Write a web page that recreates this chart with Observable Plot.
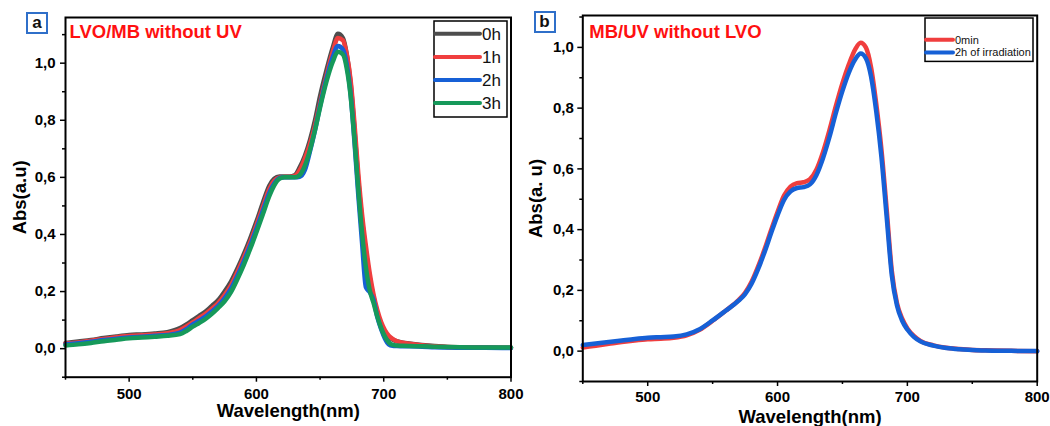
<!DOCTYPE html>
<html>
<head>
<meta charset="utf-8">
<script src="https://cdn.jsdelivr.net/npm/d3@7"></script>
<script src="https://cdn.jsdelivr.net/npm/@observablehq/plot@0.6"></script>
<style>
  html, body { margin: 0; padding: 0; background: #fff; }
  #wrap { position: relative; width: 1050px; height: 426px; overflow: hidden; font-family: "Liberation Sans", Arial, sans-serif; }
  .panel { position: absolute; top: 0; }
  .tag { position: absolute; box-sizing: border-box; border: 2px solid #2f6fc9; font-weight: bold; font-size: 17px; color: #111; text-align: center; line-height: 17px; }
  .leg { position: absolute; }
</style>
</head>
<body>
<div id="wrap"></div>
<script>
// ---------- Panel a: LVO/MB without UV ----------
const titleA = "LVO/MB without UV";
const seriesA = ["0h", "1h", "2h", "3h"];
const colorsA = ["#4d4d4d", "#f03e3e", "#1660d6", "#16995a"];
const wlA = [450,460,470,480,490,500,510,520,530,540,545,550,555,560,565,570,575,580,585,590,595,600,605,610,614,618,622,626,630,634,638,642,646,650,655,660,664,668,671,674,677,680,683,686,689,692,695,698,701,704,707,710,715,720,730,740,750,760,780,800];
const abs0h = [0.020,0.025,0.030,0.037,0.043,0.048,0.050,0.053,0.058,0.072,0.085,0.100,0.115,0.130,0.150,0.170,0.200,0.235,0.280,0.330,0.385,0.445,0.510,0.570,0.595,0.603,0.603,0.603,0.607,0.635,0.675,0.730,0.800,0.885,0.975,1.055,1.103,1.088,1.030,0.930,0.770,0.590,0.450,0.340,0.250,0.180,0.125,0.085,0.058,0.042,0.032,0.026,0.021,0.018,0.013,0.009,0.006,0.005,0.004,0.003];
const abs1h = [0.018,0.022,0.028,0.034,0.040,0.044,0.047,0.050,0.054,0.065,0.078,0.092,0.107,0.122,0.140,0.160,0.188,0.222,0.268,0.318,0.372,0.432,0.495,0.558,0.588,0.600,0.601,0.601,0.604,0.625,0.665,0.715,0.780,0.860,0.955,1.040,1.088,1.080,1.030,0.940,0.790,0.615,0.470,0.360,0.265,0.190,0.135,0.093,0.064,0.045,0.034,0.027,0.021,0.017,0.012,0.008,0.006,0.005,0.004,0.003];
const abs2h = [0.015,0.019,0.024,0.030,0.035,0.039,0.042,0.045,0.048,0.056,0.068,0.085,0.098,0.112,0.130,0.150,0.176,0.210,0.255,0.305,0.360,0.420,0.482,0.545,0.578,0.597,0.600,0.600,0.600,0.602,0.625,0.690,0.765,0.850,0.945,1.022,1.060,1.048,0.995,0.890,0.725,0.540,0.370,0.215,0.198,0.170,0.110,0.068,0.035,0.015,0.010,0.009,0.008,0.008,0.007,0.005,0.004,0.003,0.003,0.002];
const abs3h = [0.011,0.015,0.020,0.026,0.031,0.036,0.039,0.042,0.045,0.051,0.062,0.077,0.090,0.104,0.122,0.143,0.166,0.198,0.243,0.293,0.348,0.408,0.470,0.533,0.572,0.595,0.600,0.600,0.600,0.608,0.640,0.695,0.765,0.845,0.935,1.005,1.040,1.030,0.980,0.885,0.735,0.560,0.405,0.285,0.205,0.160,0.112,0.072,0.042,0.022,0.013,0.011,0.010,0.009,0.008,0.007,0.006,0.005,0.004,0.004];

// ---------- Panel b: MB/UV without LVO ----------
const titleB = "MB/UV without LVO";
const seriesB = ["0min", "2h of irradiation"];
const colorsB = ["#f03e3e", "#1660d6"];
const wlB = [450,460,470,480,490,500,510,520,530,540,550,560,570,575,580,585,590,595,600,605,610,615,620,625,630,635,640,645,650,655,660,664,668,672,676,680,684,688,692,696,700,705,710,720,730,740,750,760,780,800];
const abs0min = [0.012,0.018,0.024,0.030,0.035,0.039,0.041,0.044,0.052,0.070,0.100,0.133,0.168,0.192,0.228,0.278,0.335,0.398,0.458,0.512,0.542,0.553,0.556,0.566,0.598,0.655,0.728,0.808,0.882,0.945,0.995,1.015,1.000,0.935,0.815,0.665,0.470,0.265,0.158,0.107,0.075,0.050,0.034,0.019,0.011,0.007,0.004,0.003,0.001,0.000];
const abs2hIrr = [0.020,0.025,0.030,0.035,0.040,0.044,0.046,0.048,0.055,0.072,0.101,0.133,0.166,0.188,0.222,0.270,0.326,0.388,0.447,0.498,0.526,0.537,0.540,0.549,0.580,0.635,0.705,0.785,0.857,0.918,0.962,0.980,0.965,0.905,0.790,0.640,0.445,0.250,0.150,0.100,0.071,0.047,0.032,0.018,0.010,0.006,0.004,0.002,0.001,0.000];

// ---------- Axis ticks ----------
const xMajor = [500, 600, 700, 800];
const xMinor = [450, 550, 650, 750];
const yMajor = [0, 0.2, 0.4, 0.6, 0.8, 1.0];
const yMinor = [-0.1, 0.1, 0.3, 0.5, 0.7, 0.9, 1.1];
const xLabel = "Wavelength(nm)";
const yLabelA = "Abs(a.u)";
const yLabelB = "Abs(a. u)";

const FONT = "Liberation Sans, Arial, sans-serif";
const fmt = d => d.toFixed(1).replace(".", ",");
const rows = (wl, vals) => wl.map((w, i) => ({wl: w, abs: vals[i]}));

function panel(cfg) {
  const lines = cfg.values.map((vals, k) =>
    Plot.line(rows(cfg.wl, vals), {x: "wl", y: "abs", stroke: cfg.colors[k], strokeWidth: 4.5, curve: "monotone-x"}));
  return Plot.plot({
    width: 525, height: 426,
    marginLeft: cfg.ml, marginRight: cfg.mr, marginTop: cfg.mt, marginBottom: cfg.mb,
    x: {domain: [450, 800]},
    y: {domain: cfg.ydom},
    style: {fontFamily: FONT, background: "transparent", overflow: "visible", color: "#000"},
    marks: [
      Plot.axisX(xMajor, {tickSize: 5, tickPadding: cfg.xpad, fontSize: 15, fontWeight: "bold", label: null, strokeWidth: 1.5}),
      Plot.axisX(xMinor, {tickSize: 3, tickFormat: () => "", label: null, strokeWidth: 1.5}),
      Plot.axisY(yMajor, {tickSize: 5, tickPadding: cfg.ypad, tickFormat: fmt, fontSize: 15, fontWeight: "bold", label: null, strokeWidth: 1.5}),
      Plot.axisY(yMinor, {tickSize: 3, tickFormat: () => "", label: null, strokeWidth: 1.5}),
      ...lines,
      Plot.frame({stroke: "#000", strokeWidth: 2}),
      Plot.text([cfg.title], {frameAnchor: "top-left", textAnchor: "start", lineAnchor: "bottom", dx: cfg.tdx, dy: cfg.tdy, fill: "#ff1010", fontSize: 18.5, fontWeight: "bold"}),
      Plot.text([xLabel], {frameAnchor: "bottom", textAnchor: "middle", lineAnchor: "bottom", dy: cfg.xldy, fill: "#000", fontSize: 18.5, fontWeight: "bold"}),
      Plot.text([cfg.ylabel], {frameAnchor: "left", textAnchor: "middle", lineAnchor: "middle", rotate: -90, dx: cfg.yldx, fill: "#000", fontSize: 18.5, fontWeight: "bold"})
    ]
  });
}

const wrap = document.getElementById("wrap");

const pa = panel({
  wl: wlA, values: [abs0h, abs1h, abs2h, abs3h], colors: colorsA,
  ml: 65, mr: 14.5, mt: 17, mb: 49.3, ydom: [-0.1, 1.16],
  xpad: 6, ypad: 5, title: titleA, tdx: 4, tdy: 20.6, xldy: 40, ylabel: yLabelA, yldx: -45
});
pa.classList.add("panel"); pa.style.left = "0px";
wrap.appendChild(pa);

const pb = panel({
  wl: wlB, values: [abs0min, abs2hIrr], colors: colorsB,
  ml: 57.3, mr: 13.3, mt: 15, mb: 45, ydom: [-0.1, 1.105],
  xpad: 4.5, ypad: 4, title: titleB, tdx: 6.5, tdy: 22.3, xldy: 41, ylabel: yLabelB, yldx: -47
});
pb.classList.add("panel"); pb.style.left = "525px";
wrap.appendChild(pb);

// panel tags
function tag(letter, left, top) {
  const d = document.createElement("div");
  d.className = "tag";
  d.textContent = letter;
  Object.assign(d.style, {left: left + "px", top: top + "px", width: "22px", height: "22px"});
  wrap.appendChild(d);
}
tag("a", 26, 11.5);
tag("b", 533.5, 10.5);

// legends
function legend(names, colors, o) {
  const svg = d3.create("svg")
    .attr("class", "leg")
    .attr("width", o.w + 4).attr("height", o.h + 4)
    .style("left", (o.left - 2) + "px").style("top", (o.top - 2) + "px")
    .style("overflow", "visible");
  const g = svg.append("g").attr("transform", "translate(2,2)");
  g.append("rect").attr("width", o.w).attr("height", o.h)
    .attr("fill", "#fff").attr("stroke", "#000").attr("stroke-width", 1.5);
  names.forEach((n, i) => {
    const y = o.y0 + i * o.step;
    g.append("line").attr("x1", 1).attr("x2", o.lineLen).attr("y1", y).attr("y2", y)
      .attr("stroke", colors[i]).attr("stroke-width", 4).attr("stroke-linecap", "round");
    g.append("text").attr("x", o.lineLen + 2).attr("y", y).attr("dy", "0.35em")
      .attr("font-family", FONT).attr("font-size", o.fs).attr("fill", "#111").text(n);
  });
  wrap.appendChild(svg.node());
}
legend(seriesA, colorsA, {left: 434, top: 20.7, w: 73, h: 96, y0: 12.8, step: 23.1, lineLen: 46, fs: 17});
legend(seriesB, colorsB, {left: 925, top: 18.3, w: 108, h: 43.4, y0: 21.7, step: 12.7, lineLen: 28, fs: 11});
</script>
</body>
</html>
